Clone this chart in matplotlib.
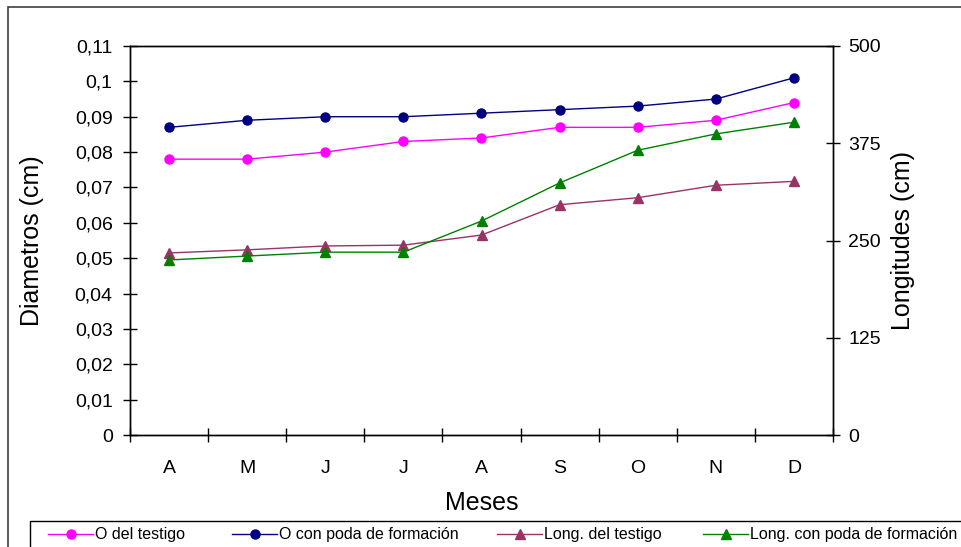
import numpy as np
import matplotlib
matplotlib.use("Agg")
import matplotlib.pyplot as plt
from matplotlib.patches import Rectangle
from matplotlib.lines import Line2D

# data
meses = ["A", "M", "J", "J", "A", "S", "O", "N", "D"]
diam_testigo = [0.078, 0.078, 0.080, 0.083, 0.084, 0.087, 0.087, 0.089, 0.094]
diam_poda = [0.087, 0.089, 0.090, 0.090, 0.091, 0.092, 0.093, 0.095, 0.101]
long_testigo = [234, 238, 243, 244, 257, 296, 305, 321, 326]
long_poda = [225, 230, 235, 235, 275, 324, 366, 387, 402]

diam_ticks = np.arange(0, 0.111, 0.01)
long_ticks = [0, 125, 250, 375, 500]

series_labels = ["O del testigo", "O con poda de formación",
                 "Long. del testigo", "Long. con poda de formación"]

plt.rcParams['font.family'] = ['Liberation Sans', 'DejaVu Sans']

W, H = 961, 547
fig = plt.figure(figsize=(W / 100, H / 100), dpi=100)
ax = fig.add_axes([130 / W, 1 - 435 / H, (833 - 130) / W, (435 - 46) / H])
ax2 = ax.twinx()

x = np.arange(len(meses))
colors = ["#FF00FF", "#000080", "#993366", "#008000"]
markers = ["o", "o", "^", "^"]
msizes = [6.5, 6.5, 7, 7]

ax.plot(x, diam_testigo, color=colors[0], lw=1, marker=markers[0], ms=msizes[0])
ax.plot(x, diam_poda, color=colors[1], lw=1, marker=markers[1], ms=msizes[1])
ax2.plot(x, long_testigo, color=colors[2], lw=1, marker=markers[2], ms=msizes[2])
ax2.plot(x, long_poda, color=colors[3], lw=1, marker=markers[3], ms=msizes[3])

ax.set_xlim(-0.5, len(meses) - 0.5)
ax.set_ylim(0, 0.11)
ax2.set_ylim(0, 500)

ax.set_yticks(diam_ticks)
ax.set_yticklabels([f"{v:.2f}".rstrip("0").rstrip(".").replace(".", ",") if v > 0 else "0"
                    for v in diam_ticks])
ax2.set_yticks(long_ticks)

# category labels at centres, tick marks at the boundaries
ax.set_xticks(np.arange(-0.5, len(meses) + 0.5, 1))
ax.set_xticklabels([])
ax.set_xticks(x, minor=True)
ax.set_xticklabels(meses, minor=True)
ax.tick_params(axis="x", which="minor", length=0, pad=18, labelsize=14)
ax.tick_params(axis="x", which="major", direction="inout", length=10, width=1)
ax.tick_params(axis="y", direction="inout", length=10, width=1, labelsize=14, pad=7.5)
ax2.tick_params(axis="y", direction="inout", length=10, width=1, labelsize=14, pad=6)

for a in (ax, ax2):
    for s in a.spines.values():
        s.set_linewidth(1)

ax.set_ylabel("Diametros (cm)", fontsize=18)
ax.yaxis.set_label_coords((44 - 130) / 703, 0.5)
ax2.set_ylabel("Longitudes (cm)", fontsize=18)
ax2.yaxis.set_label_coords((891 - 130) / 703, 0.5)
ax.set_xlabel("Meses", fontsize=18)
ax.xaxis.set_label_coords(0.5, (435 - 491) / 389)

# outer chart border (cut off at right and bottom as in the reference)
fig.patches.append(Rectangle((8 / W, -0.1), 1.2, 1 - 7 / H + 0.1, transform=fig.transFigure,
                             fill=False, edgecolor="#404040", lw=1.2))
# legend box
fig.patches.append(Rectangle((30 / W, -0.1), 1.2, 0.1 + (547 - 521) / H, transform=fig.transFigure,
                             fill=False, edgecolor="black", lw=1))

# legend entries drawn by hand to keep the spacing of the reference
text_x = [95, 279, 544, 750]
ly = 1 - 534 / H
for tx, col, mk, ms, lab in zip(text_x, colors, markers, msizes, series_labels):
    x0, x1 = (tx - 47) / W, (tx - 2) / W
    fig.add_artist(Line2D([x0, x1], [ly, ly], transform=fig.transFigure, color=col, lw=1))
    fig.add_artist(Line2D([(x0 + x1) / 2], [ly], transform=fig.transFigure, color=col,
                          marker=mk, ms=ms, lw=0))
    fig.text(tx / W, ly, lab, fontsize=11.5, va="center", ha="left")

fig.savefig("out.png", dpi=100)
